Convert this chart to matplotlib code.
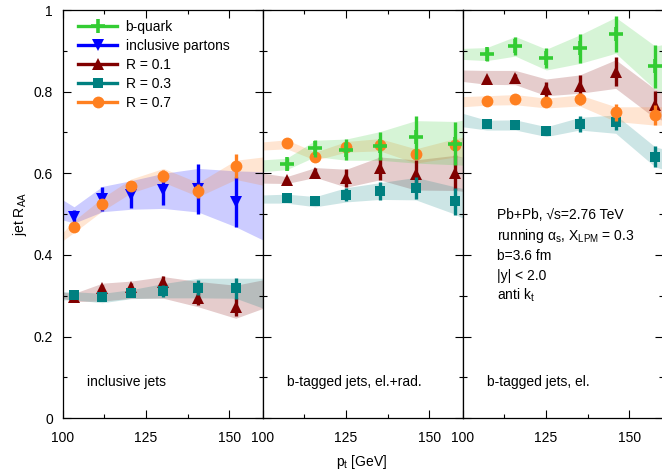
import matplotlib
matplotlib.use("Agg")
import matplotlib.pyplot as plt
from matplotlib.lines import Line2D
from matplotlib.ticker import MultipleLocator

plt.rcParams['font.family'] = ['Liberation Sans', 'DejaVu Sans']
plt.rcParams['mathtext.fontset'] = 'custom'
plt.rcParams['mathtext.rm'] = 'Liberation Sans'
plt.rcParams['mathtext.it'] = 'Liberation Sans:italic'
plt.rcParams['mathtext.bf'] = 'Liberation Sans:bold'
plt.rcParams['mathtext.sf'] = 'Liberation Sans'

# ---------------- data ----------------
# panel 1: inclusive jets
pt_incl = [103.4, 111.9, 120.5, 130.2, 140.7, 151.9]
band_pt_incl = [100, 103.4, 111.9, 120.5, 130.2, 140.7, 151.9, 160]

partons_y = [0.494, 0.537, 0.547, 0.559, 0.561, 0.530]
partons_err = [0.016, 0.030, 0.033, 0.037, 0.061, 0.062]
partons_lo = [0.486, 0.478, 0.506, 0.512, 0.514, 0.505, 0.469, 0.437]
partons_hi = [0.535, 0.518, 0.568, 0.582, 0.600, 0.612, 0.606, 0.604]

incl_r07_y = [0.469, 0.524, 0.569, 0.594, 0.557, 0.618]
incl_r07_err = [0.006, 0.010, 0.012, 0.015, 0.018, 0.030]
incl_r07_lo = [0.435, 0.455, 0.508, 0.552, 0.578, 0.543, 0.585, 0.571]
incl_r07_hi = [0.455, 0.484, 0.540, 0.586, 0.612, 0.577, 0.632, 0.640]

incl_r01_y = [0.297, 0.318, 0.322, 0.335, 0.294, 0.273]
incl_r01_err = [0.004, 0.008, 0.010, 0.013, 0.016, 0.022]
incl_r01_lo = [0.294, 0.286, 0.287, 0.294, 0.294, 0.273, 0.245, 0.269]
incl_r01_hi = [0.309, 0.306, 0.331, 0.336, 0.347, 0.335, 0.326, 0.339]

incl_r03_y = [0.302, 0.296, 0.306, 0.312, 0.320, 0.318]
incl_r03_err = [0.004, 0.006, 0.010, 0.015, 0.018, 0.025]
incl_r03_lo = [0.290, 0.290, 0.283, 0.293, 0.295, 0.295, 0.294, 0.270]
incl_r03_hi = [0.310, 0.310, 0.306, 0.315, 0.330, 0.343, 0.343, 0.343]

# panel 2: b-tagged jets, el.+rad.
pt_b = [107.2, 115.8, 125.1, 135.1, 145.9, 157.7]
band_pt_b = [100, 107.2, 115.8, 125.1, 135.1, 145.9, 157.7, 160]

rad_bq_y = [0.623, 0.661, 0.658, 0.667, 0.688, 0.673]
rad_bq_err = [0.014, 0.020, 0.026, 0.035, 0.053, 0.052]
rad_bq_lo = [0.604, 0.609, 0.641, 0.632, 0.632, 0.625, 0.621, 0.620]
rad_bq_hi = [0.633, 0.637, 0.681, 0.684, 0.702, 0.729, 0.727, 0.730]

rad_r01_y = [0.583, 0.602, 0.588, 0.612, 0.598, 0.602]
rad_r01_err = [0.004, 0.012, 0.022, 0.028, 0.035, 0.042]
rad_r01_lo = [0.576, 0.575, 0.590, 0.566, 0.584, 0.559, 0.558, 0.556]
rad_r01_hi = [0.600, 0.592, 0.614, 0.610, 0.640, 0.633, 0.644, 0.640]

rad_r03_y = [0.539, 0.531, 0.547, 0.557, 0.564, 0.531]
rad_r03_err = [0.004, 0.004, 0.016, 0.022, 0.026, 0.032]
rad_r03_lo = [0.527, 0.527, 0.518, 0.530, 0.536, 0.535, 0.500, 0.490]
rad_r03_hi = [0.547, 0.549, 0.543, 0.565, 0.577, 0.590, 0.567, 0.563]

rad_r07_y = [0.674, 0.641, 0.665, 0.670, 0.647, 0.670]
rad_r07_err = [0.004, 0.008, 0.010, 0.012, 0.012, 0.015]
rad_r07_lo = [0.657, 0.660, 0.632, 0.652, 0.655, 0.625, 0.640, 0.640]
rad_r07_hi = [0.677, 0.682, 0.652, 0.678, 0.685, 0.660, 0.685, 0.688]

# panel 3: b-tagged jets, el.
el_bq_y = [0.892, 0.913, 0.882, 0.906, 0.941, 0.862]
el_bq_err = [0.016, 0.022, 0.025, 0.035, 0.044, 0.053]
el_bq_lo = [0.879, 0.876, 0.887, 0.853, 0.869, 0.894, 0.806, 0.800]
el_bq_hi = [0.906, 0.908, 0.935, 0.904, 0.939, 0.982, 0.912, 0.915]

el_r01_y = [0.831, 0.833, 0.806, 0.815, 0.849, 0.767]
el_r01_err = [0.006, 0.010, 0.018, 0.026, 0.035, 0.035]
el_r01_lo = [0.825, 0.818, 0.817, 0.790, 0.796, 0.808, 0.735, 0.730]
el_r01_hi = [0.853, 0.852, 0.852, 0.831, 0.841, 0.878, 0.806, 0.800]

el_r03_y = [0.721, 0.719, 0.704, 0.721, 0.725, 0.641]
el_r03_err = [0.006, 0.006, 0.010, 0.020, 0.018, 0.025]
el_r03_lo = [0.714, 0.706, 0.706, 0.690, 0.706, 0.698, 0.616, 0.610]
el_r03_hi = [0.747, 0.730, 0.731, 0.714, 0.737, 0.743, 0.665, 0.660]

el_r07_y = [0.778, 0.783, 0.774, 0.782, 0.749, 0.743]
el_r07_err = [0.005, 0.006, 0.008, 0.014, 0.020, 0.025]
el_r07_lo = [0.763, 0.767, 0.768, 0.760, 0.765, 0.727, 0.718, 0.718]
el_r07_hi = [0.788, 0.790, 0.793, 0.784, 0.792, 0.763, 0.763, 0.763]

legend_labels = ['b-quark', 'inclusive partons', 'R = 0.1', 'R = 0.3', 'R = 0.7']
panel_titles = ['inclusive jets', 'b-tagged jets, el.+rad.', 'b-tagged jets, el.']
info_lines = ['Pb+Pb, √s=2.76 TeV',
              'running α$_\\mathrm{s}$, X$_\\mathrm{LPM}$ = 0.3',
              'b=3.6 fm', '|y| < 2.0', 'anti k$_\\mathrm{t}$']
xticks = [100, 125, 150]
yticks = [0, 0.2, 0.4, 0.6, 0.8, 1.0]
ytick_labels = ['0', '0.2', '0.4', '0.6', '0.8', '1']

# ---------------- styles ----------------
C_GREEN = '#33cc33'
C_BLUE = '#0000ff'
C_RED = '#800000'
C_TEAL = '#008080'
C_ORANGE = '#ff8020'
style = {
    'bq': dict(color=C_GREEN, marker='+', ms=10, mew=2.6),
    'partons': dict(color=C_BLUE, marker='v', ms=8.5, mew=0),
    'r01': dict(color=C_RED, marker='^', ms=8.5, mew=0),
    'r03': dict(color=C_TEAL, marker='s', ms=7.5, mew=0),
    'r07': dict(color=C_ORANGE, marker='o', ms=8.5, mew=0),
}
band_alpha = 0.2

W, H = 662, 471
fig = plt.figure(figsize=(W / 100, H / 100), dpi=100)
left_px, top_px, bot_px = 62.7, 10.0, 418.3
pw = 200.0
axes = []
for i in range(3):
    x0 = (left_px + i * pw) / W
    ax = fig.add_axes([x0, 1 - bot_px / H, pw / W, (bot_px - top_px) / H])
    axes.append(ax)

panels = [
    (axes[0], pt_incl, band_pt_incl, [
        ('partons', partons_y, partons_err, partons_lo, partons_hi),
        ('r01', incl_r01_y, incl_r01_err, incl_r01_lo, incl_r01_hi),
        ('r03', incl_r03_y, incl_r03_err, incl_r03_lo, incl_r03_hi),
        ('r07', incl_r07_y, incl_r07_err, incl_r07_lo, incl_r07_hi),
    ]),
    (axes[1], pt_b, band_pt_b, [
        ('r01', rad_r01_y, rad_r01_err, rad_r01_lo, rad_r01_hi),
        ('r03', rad_r03_y, rad_r03_err, rad_r03_lo, rad_r03_hi),
        ('r07', rad_r07_y, rad_r07_err, rad_r07_lo, rad_r07_hi),
        ('bq', rad_bq_y, rad_bq_err, rad_bq_lo, rad_bq_hi),
    ]),
    (axes[2], pt_b, band_pt_b, [
        ('r01', el_r01_y, el_r01_err, el_r01_lo, el_r01_hi),
        ('r03', el_r03_y, el_r03_err, el_r03_lo, el_r03_hi),
        ('r07', el_r07_y, el_r07_err, el_r07_lo, el_r07_hi),
        ('bq', el_bq_y, el_bq_err, el_bq_lo, el_bq_hi),
    ]),
]

for ax, xs, bx, series in panels:
    for key, y, e, lo, hi in series:
        ax.fill_between(bx, lo, hi, color=style[key]['color'],
                        alpha=band_alpha, lw=0, zorder=1)
    for key, y, e, lo, hi in series:
        st = style[key]
        ax.errorbar(xs, y, yerr=e, fmt='none', ecolor=st['color'],
                    elinewidth=2.4, capsize=0, zorder=3)
        ax.plot(xs, y, ls='none', marker=st['marker'], ms=st['ms'],
                mew=st['mew'], color=st['color'], zorder=3)

for i, ax in enumerate(axes):
    ax.set_xlim(100, 160)
    ax.set_ylim(0, 1)
    ax.set_xticks(xticks)
    ax.xaxis.set_minor_locator(MultipleLocator(12.5))
    ax.set_yticks(yticks, labels=ytick_labels)
    ax.yaxis.set_minor_locator(MultipleLocator(0.1))
    ax.tick_params(which='both', direction='in', top=True, right=True,
                   width=0.8, labelsize=10)
    ax.tick_params(which='major', length=5.5)
    ax.tick_params(which='minor', length=3)
    ax.tick_params(axis='x', pad=9)
    ax.tick_params(axis='y', pad=7)
    for sp in ax.spines.values():
        sp.set_linewidth(0.9)
    if i > 0:
        ax.tick_params(axis='y', labelleft=False)
    ax.text(107.4, 0.09, panel_titles[i], fontsize=10, va='center', ha='left')

# info text
info_y = [0.498, 0.447, 0.398, 0.349, 0.302]
for s, yy in zip(info_lines, info_y):
    axes[2].text(110.2, yy, s, fontsize=10, va='center', ha='left')

# legend
handles = [Line2D([], [], color=style[k]['color'], lw=2.4, marker=style[k]['marker'],
                  ms=style[k]['ms'], mew=style[k]['mew'])
           for k in ['bq', 'partons', 'r01', 'r03', 'r07']]
axes[0].legend(handles, legend_labels, loc='upper left', bbox_to_anchor=(0.078, 0.975),
               frameon=False, fontsize=10, handlelength=2.8, handletextpad=0.6,
               labelspacing=0.35, borderpad=0, borderaxespad=0)

fig.text(20 / W, 1 - 214 / H, 'jet R$_\\mathrm{AA}$', rotation=90, fontsize=10,
         ha='center', va='center')
fig.text(362 / W, 1 - 462 / H, 'p$_\\mathrm{t}$ [GeV]', fontsize=10,
         ha='center', va='center')

fig.savefig('out.png', dpi=100)
